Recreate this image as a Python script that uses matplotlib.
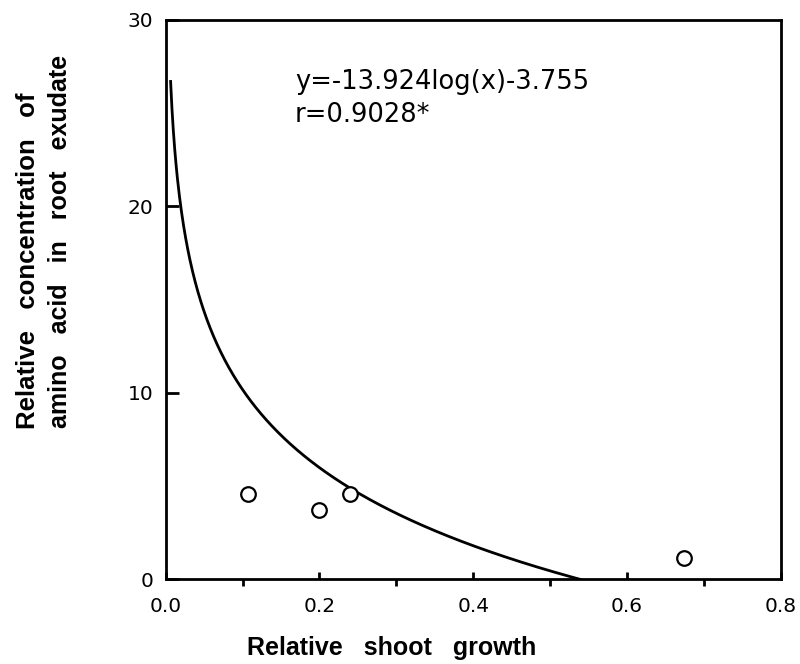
import numpy as np
import matplotlib
matplotlib.use('Agg')
import matplotlib.pyplot as plt
from matplotlib.ticker import MultipleLocator, FormatStrFormatter

plt.rcParams['font.family'] = ['Liberation Sans', 'DejaVu Sans']

# observed points
shoot_growth = [0.107, 0.200, 0.240, 0.674]
amino_conc = [4.55, 3.70, 4.55, 1.15]

# fitted curve y = a*log10(x) + b
fit_a = -13.924
fit_b = -3.755
fit_xmin = 0.0065
fit_xmax = 0.54

fig = plt.figure(figsize=(8, 6.64), dpi=100)
ax = fig.add_axes([0.207, 0.128, 0.769, 0.842])

xs = np.linspace(fit_xmin, fit_xmax, 600)
ax.plot(xs, fit_a * np.log10(xs) + fit_b, color='black', lw=2.0)

ax.plot(shoot_growth, amino_conc, 'o', ms=10.5, mfc='white', mec='black', mew=1.6)

ax.set_xlim(0, 0.8)
ax.set_ylim(0, 30)
ax.xaxis.set_major_locator(MultipleLocator(0.2))
ax.xaxis.set_minor_locator(MultipleLocator(0.1))
ax.xaxis.set_major_formatter(FormatStrFormatter('%.1f'))
ax.set_yticks([0, 10, 20, 30])
ax.tick_params(axis='both', direction='in', labelsize=14.5, width=2)
ax.tick_params(axis='x', which='major', length=5, pad=13)
ax.tick_params(axis='x', which='minor', length=5, width=2)
ax.tick_params(axis='y', length=9, pad=9)
for lab in ax.get_xticklabels() + ax.get_yticklabels():
    lab.set_family('DejaVu Sans')
for s in ax.spines.values():
    s.set_linewidth(2)

ax.text(0.21, 0.889, 'y=-13.924log(x)-3.755', transform=ax.transAxes,
        fontsize=18.5, va='center', ha='left', family='DejaVu Sans')
ax.text(0.21, 0.830, 'r=0.9028*', transform=ax.transAxes,
        fontsize=18.5, va='center', ha='left', family='DejaVu Sans')

fig.text(0.489, 0.014, 'Relative   shoot   growth', fontsize=18, fontweight='bold',
         ha='center', va='baseline')
fig.text(0.035, 0.607, 'Relative   concentration   of', fontsize=18.5, fontweight='bold',
         ha='center', va='center', rotation=90)
fig.text(0.075, 0.637, 'amino   acid   in   root   exudate', fontsize=18, fontweight='bold',
         ha='center', va='center', rotation=90)

fig.savefig('out.png', dpi=100)
